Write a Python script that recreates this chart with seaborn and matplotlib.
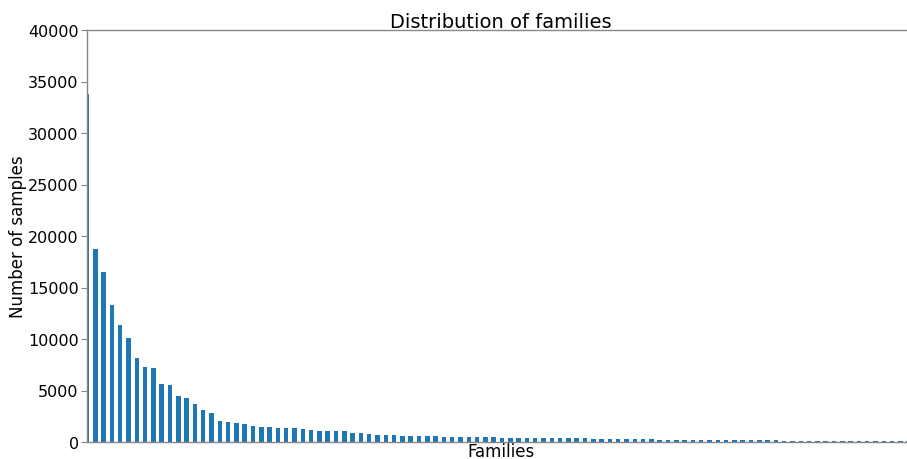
import matplotlib
matplotlib.use("Agg")
import matplotlib.pyplot as plt
import seaborn as sns
import pandas as pd

# Sample counts per family, sorted from most to least frequent
counts = [
    33800, 18750, 16550, 13300, 11350, 10050, 8150, 7300, 7200, 5600,
    5500, 4500, 4250, 3700, 3100, 2850, 2050, 1950, 1850, 1700,
    1550, 1490, 1470, 1360, 1340, 1320, 1230, 1170, 1100, 1070,
    1060, 1050, 880, 870, 760, 690, 650, 640, 630, 560,
    555, 550, 545, 530, 520, 490, 480, 470, 465, 460,
    430, 425, 420, 415, 410, 405, 400, 370, 365, 360,
    340, 330, 325, 320, 315, 270, 265, 260, 255, 215,
    212, 210, 210, 209, 208, 170, 170, 168, 168, 167,
    166, 165, 164, 162, 140, 140, 139, 138, 137, 136,
    135, 134, 133, 132, 131, 130, 129, 128, 127, 126,
]
families = [f"family_{i:03d}" for i in range(len(counts))]
yticks = [0, 5000, 10000, 15000, 20000, 25000, 30000, 35000, 40000]

df = pd.DataFrame({"family": families, "samples": counts})

sns.set_style("white")
plt.rcParams["font.family"] = ["DejaVu Sans"]
plt.rcParams["text.color"] = "black"
plt.rcParams["axes.labelcolor"] = "black"
plt.rcParams["ytick.color"] = "#888888"
plt.rcParams["ytick.labelcolor"] = "black"

W, H = 907, 460
left_px, right_px, top_px, bottom_px = 87, 915, 31, 443

fig = plt.figure(figsize=(W / 100, H / 100), dpi=100)
ax = fig.add_axes([left_px / W, (H - bottom_px) / H,
                   (right_px - left_px) / W, (bottom_px - top_px) / H])

sns.barplot(data=df, x="family", y="samples", color="#1f77b4", saturation=1,
            width=0.55, linewidth=0, ax=ax)

ax.set_xlim(0, (right_px - left_px) / 8.3)
ax.set_ylim(0, 40000)
ax.set_yticks(yticks)
ax.set_yticklabels([str(t) for t in yticks], fontsize=11.5)
ax.set_xticks([])
ax.tick_params(axis="y", length=4, width=0.8, pad=2, left=True)
ax.set_xlabel("Families", fontsize=12, labelpad=0)
ax.set_ylabel("Number of samples", fontsize=12)
ax.yaxis.set_label_coords((27 - left_px) / (right_px - left_px), 0.5)
ax.set_title("Distribution of families", fontsize=14, pad=2.5)

for side in ("left", "top", "bottom", "right"):
    ax.spines[side].set_color("#888888")
    ax.spines[side].set_linewidth(1.0)

fig.savefig("out.png", dpi=100)
